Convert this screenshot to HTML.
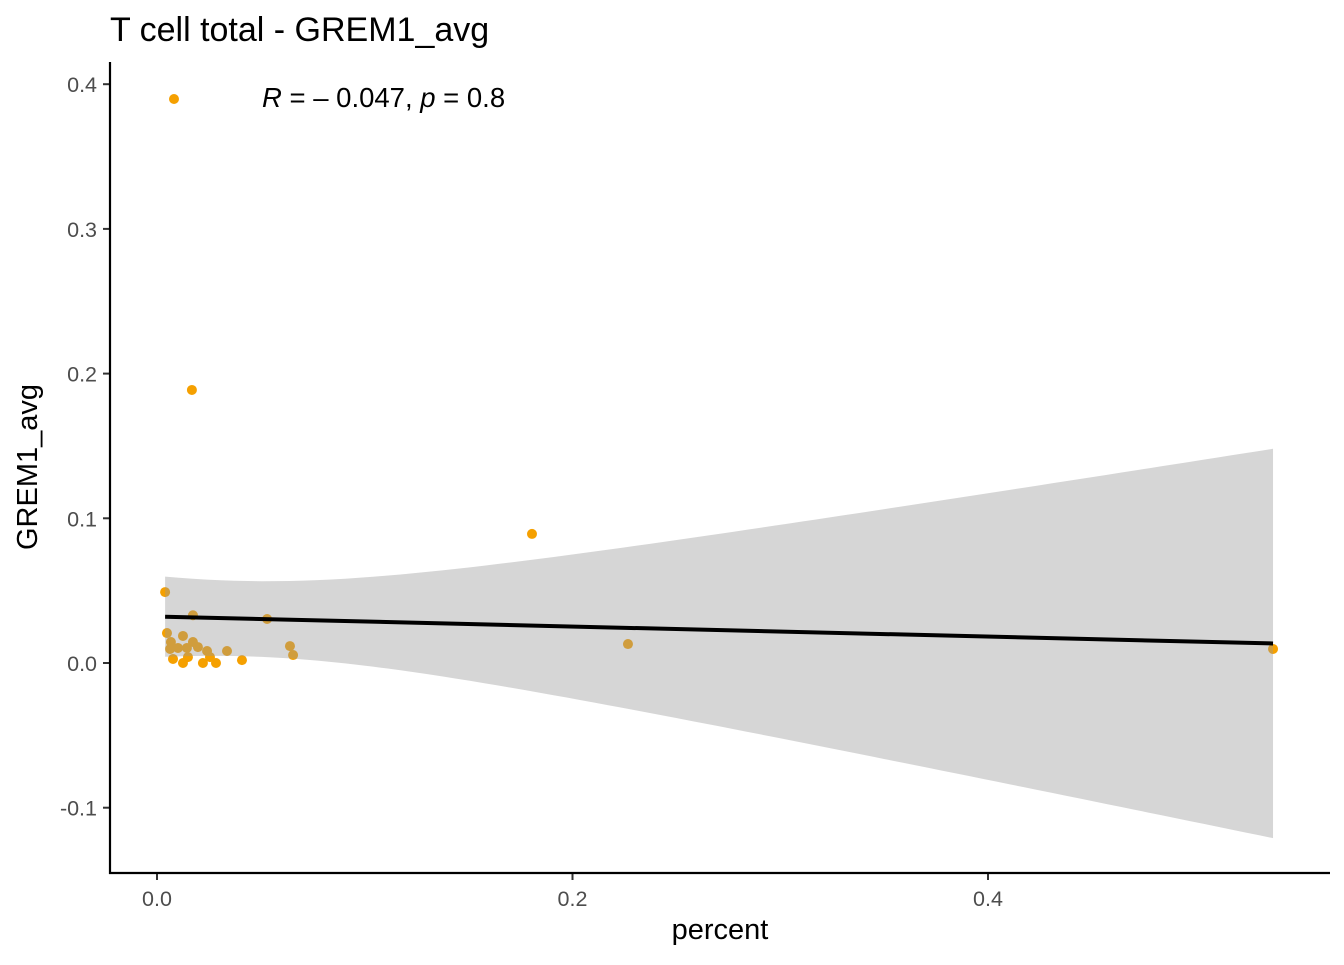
<!DOCTYPE html>
<html><head><meta charset="utf-8"><style>
body{margin:0;background:#fff;}
svg text{font-family:"Liberation Sans",Arial,sans-serif;}
</style></head><body>
<svg id="chart" width="1344" height="960">
<text x="110" y="41" font-size="34" fill="#000">T cell total - GREM1_avg</text>
<g id="ticks"></g>
<g id="points"></g>
<g id="ribbon"></g>
<g id="fit"></g>
<line x1="110" y1="62" x2="110" y2="874" stroke="#000" stroke-width="2.2"/>
<line x1="109" y1="873" x2="1330" y2="873" stroke="#000" stroke-width="2.2"/>
<text x="720" y="939" font-size="29" text-anchor="middle">percent</text>
<text transform="translate(37,467) rotate(-90)" font-size="29" text-anchor="middle">GREM1_avg</text>
<circle cx="174" cy="99" r="5" fill="#F5A000"/>
<text x="262" y="107" font-size="27.5"><tspan font-style="italic">R</tspan> = – 0.047, <tspan font-style="italic">p</tspan> = 0.8</text>
</svg>
<script>
const xs=[0.0039,0.0173,0.0048,0.0125,0.0067,0.0173,0.0197,0.0063,0.0101,0.0144,0.0241,0.0337,0.064,0.0655,0.0077,0.0149,0.0255,0.0125,0.0221,0.0284,0.0409,0.053,0.0168,0.1805,0.2267,0.5372];
const ys=[0.049,0.033,0.0207,0.0187,0.0145,0.0145,0.011,0.0097,0.0104,0.0104,0.0083,0.0083,0.0117,0.0055,0.0028,0.0041,0.0041,0.0,0.0,0.0,0.002,0.0304,0.1887,0.0892,0.0131,0.0097];
const xTicks=[0,0.2,0.4];
const xTickLabels=["0.0","0.2","0.4"];
const yTicks=[-0.1,0,0.1,0.2,0.3,0.4];
const yTickLabels=["-0.1","0.0","0.1","0.2","0.3","0.4"];
const fitEnds=[0.032,0.0135];
const ciParams=[0.026,0.2655,0.04];
const X=v=>157+v*2077.5, Y=v=>663-v*1447;
const NS="http://www.w3.org/2000/svg";
function mk(t,a,p){const e=document.createElementNS(NS,t);for(const k in a)e.setAttribute(k,a[k]);p.appendChild(e);return e;}
const tk=document.getElementById('ticks');
xTicks.forEach((v,i)=>{
 const l=mk('line',{x1:X(v),x2:X(v),y1:873,y2:880,stroke:'#333','stroke-width':2},tk);
 
 
 const t=mk('text',{x:X(v),y:906,'font-size':21.5,fill:'#4d4d4d','text-anchor':'middle'},tk);t.textContent=xTickLabels[i];
 
 
});
yTicks.forEach((v,i)=>{
 const l=mk('line',{x1:103,x2:110,y1:Y(v),y2:Y(v),stroke:'#333','stroke-width':2},tk);
 
 
 const t=mk('text',{x:97,y:Y(v)+8,'font-size':21.5,fill:'#4d4d4d','text-anchor':'end'},tk);t.textContent=yTickLabels[i];
 
 
});
const pg=document.getElementById('points');
xs.forEach((x,i)=>{
 const c=mk('circle',{cx:X(x),cy:Y(ys[i]),r:5,fill:'#F5A000'},pg);
 
 
});
const x0=Math.min(...xs),x1=Math.max(...xs);
const fy=x=>fitEnds[0]+(fitEnds[1]-fitEnds[0])*(x-x0)/(x1-x0);
const hw=x=>Math.sqrt(ciParams[0]**2+(ciParams[1]*(x-ciParams[2]))**2);
let up=[],dn=[];
for(let i=0;i<=80;i++){const x=x0+(x1-x0)*i/80;up.push(X(x)+','+Y(fy(x)+hw(x)));dn.unshift(X(x)+','+Y(fy(x)-hw(x)));}
const rb=mk('polygon',{points:up.concat(dn).join(' '),fill:'#999','fill-opacity':0.4},document.getElementById('ribbon'));


const fl=mk('line',{x1:X(x0),y1:Y(fy(x0)),x2:X(x1),y2:Y(fy(x1)),stroke:'#000','stroke-width':4},document.getElementById('fit'));


</script>
</body></html>
